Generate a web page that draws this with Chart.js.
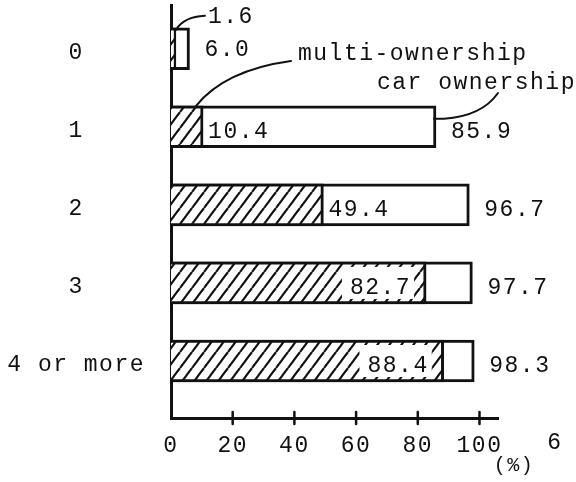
<!DOCTYPE html>
<html>
<head>
<meta charset="utf-8">
<script src="https://cdn.jsdelivr.net/npm/chart.js@4"></script>
<style>
  html, body { margin: 0; padding: 0; background: #fff; }
  #wrap { width: 576px; height: 482px; }
</style>
</head>
<body>
<div id="wrap"><canvas id="myChart"></canvas></div>
<script>
// number of cars in household vs. ownership rate (%)
const categories = ['0', '1', '2', '3', '4 or more'];
const multiOwnership = [1.6, 10.4, 49.4, 82.7, 88.4];
const carOwnership = [6.0, 85.9, 96.7, 97.7, 98.3];
const xTicks = [0, 20, 40, 60, 80, 100];

const FONT = "'Liberation Mono', 'DejaVu Sans Mono', monospace";
const FS = 23;
const INK = '#111';

const canvas = document.getElementById('myChart');
const ctx = canvas.getContext('2d');

// diagonal hatch for the multi-ownership bars
function hatch() {
    const w = 12, h = 16;
    const c = document.createElement('canvas');
    c.width = w; c.height = h;
    const g = c.getContext('2d');
    g.fillStyle = '#fff';
    g.fillRect(0, 0, w, h);
    g.strokeStyle = INK;
    g.lineWidth = 2.2;
    for (let k = 0; k <= 2; k++) {
        g.beginPath();
        g.moveTo((k - 1) * w, h);
        g.lineTo(k * w, 0);
        g.stroke();
    }
    return ctx.createPattern(c, 'repeat');
}

// typewriter pitch: a bit wider than the mono font
const spacingPlugin = {
    id: 'spacing',
    beforeLayout(chart) { chart.ctx.letterSpacing = '1.5px'; },
    beforeDraw(chart) { chart.ctx.letterSpacing = '1.5px'; }
};

const labelsPlugin = {
    id: 'labels',
    afterDatasetsDraw(chart) {
        const c = chart.ctx;
        const xs = chart.scales.x, ys = chart.scales.y;
        const half = 21;
        const dy = 5; // typed text sits a little below the bar centre
        c.save();
        c.strokeStyle = INK;
        c.fillStyle = INK;
        c.lineCap = 'round';

        // tick marks crossing the x axis
        c.lineWidth = 2.5;
        xTicks.forEach(v => {
            if (v === 0) return;
            const x = xs.getPixelForValue(v);
            c.beginPath();
            c.moveTo(x, xs.top - 6);
            c.lineTo(x, xs.top + 6);
            c.stroke();
        });

        c.font = FS + 'px ' + FONT;
        c.textBaseline = 'middle';

        // car ownership values, right of each bar
        carOwnership.forEach((v, i) => {
            const x = xs.getPixelForValue(v);
            const y = ys.getPixelForValue(i);
            c.textAlign = 'left';
            c.fillText(v.toFixed(1), x + 15, i === 0 ? y + 1 : y + dy);
        });

        // multi-ownership values
        multiOwnership.forEach((v, i) => {
            const x = xs.getPixelForValue(v);
            const y = ys.getPixelForValue(i);
            const txt = v.toFixed(1);
            if (v < 5) {
                const tx = x + 32, ty = y - half - 11;
                c.lineWidth = 2;
                c.beginPath();
                c.moveTo(x, y - half + 2);
                c.quadraticCurveTo(x + 8, ty, tx - 3, ty - 1);
                c.stroke();
                c.textAlign = 'left';
                c.fillText(txt, tx, ty);
            } else if (v < 60) {
                c.textAlign = 'left';
                c.fillText(txt, x + 5, y + dy);
            } else {
                const wTxt = c.measureText(txt).width;
                const right = x - 15;
                c.fillStyle = '#fff';
                c.fillRect(right - wTxt - 8, y - half + 5, wTxt + 11, 2 * half - 10);
                c.fillStyle = INK;
                c.textAlign = 'right';
                c.fillText(txt, right, y + dy);
            }
        });

        // series annotations with leader lines
        const y1 = ys.getPixelForValue(1);
        c.textAlign = 'left';
        c.fillText('multi-ownership', 298, 54);
        c.fillText('car ownership', 377, 83);
        c.lineWidth = 2;
        c.beginPath();
        c.moveTo(291, 61);
        c.quadraticCurveTo(225, 70, xs.getPixelForValue(multiOwnership[1]) - 7, y1 - half);
        c.stroke();
        const xe = xs.getPixelForValue(carOwnership[1]);
        c.beginPath();
        c.moveTo(498, 93);
        c.quadraticCurveTo(482, 116, xe + 8, y1 - 8);
        c.lineTo(xe - 2, y1 - 8);
        c.stroke();

        // unit and stray mark beside the axis
        c.textAlign = 'center';
        c.fillText('6', 555, xs.top + 25);
        c.font = '20px ' + FONT;
        c.fillText('(%)', 514, xs.top + 48);
        c.restore();
    }
};

new Chart(canvas, {
    type: 'bar',
    data: {
        datasets: [{
            label: 'multi-ownership',
            data: multiOwnership.map((v, i) => ({ x: v, y: i })),
            backgroundColor: hatch(),
            borderColor: INK,
            borderWidth: 3,
            barThickness: 42,
            grouped: false
        }, {
            label: 'car ownership',
            data: carOwnership.map((v, i) => ({ x: v, y: i })),
            backgroundColor: '#fff',
            borderColor: INK,
            borderWidth: 3,
            barThickness: 42,
            grouped: false
        }]
    },
    options: {
        indexAxis: 'y',
        responsive: true,
        maintainAspectRatio: false,
        animation: false,
        layout: { padding: { top: 5, right: 78, left: 0, bottom: 0 } },
        plugins: {
            legend: { display: false },
            tooltip: { enabled: false }
        },
        scales: {
            x: {
                type: 'linear',
                min: 0,
                max: 106,
                afterBuildTicks: s => { s.ticks = xTicks.map(v => ({ value: v })); },
                afterFit: s => { s.height = 64; },
                grid: { display: false },
                border: { display: true, color: INK, width: 3 },
                ticks: {
                    color: INK,
                    font: { family: FONT, size: FS },
                    padding: 6,
                    maxRotation: 0,
                    autoSkip: false
                }
            },
            y: {
                type: 'linear',
                reverse: true,
                offset: false,
                min: -0.56,
                max: 4.73,
                afterBuildTicks: s => { s.ticks = categories.map((_, i) => ({ value: i })); },
                afterFit: s => { s.width = 171; s.paddingTop = 0; s.paddingBottom = 0; },
                grid: { display: false },
                border: { display: true, color: INK, width: 3 },
                ticks: {
                    color: INK,
                    font: { family: FONT, size: FS },
                    padding: 18,
                    labelOffset: 4,
                    crossAlign: 'center',
                    autoSkip: false,
                    callback: v => categories[v]
                }
            }
        }
    },
    plugins: [spacingPlugin, labelsPlugin]
});
</script>
</body>
</html>
